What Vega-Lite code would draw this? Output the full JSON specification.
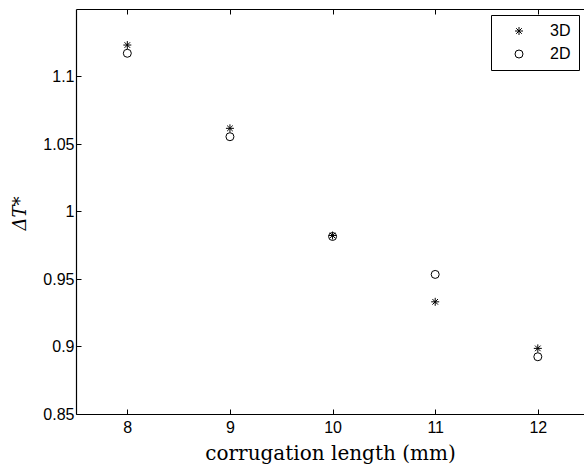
{
  "$schema": "https://vega.github.io/schema/vega-lite/v6.json",
  "width": 508,
  "height": 405,
  "autosize": "none",
  "padding": {"left": 76, "top": 9, "right": 0, "bottom": 56},
  "background": "white",
  "config": {
    "view": {"stroke": null},
    "axis": {
      "domainColor": "black",
      "domainWidth": 1.2,
      "tickColor": "black",
      "tickWidth": 1,
      "grid": false,
      "labelFont": "Liberation Sans",
      "labelFontSize": 16,
      "labelColor": "black",
      "titleFont": "DejaVu Serif",
      "titleFontWeight": "normal",
      "titleColor": "black"
    }
  },
  "data": {
    "values": [
      {"x": 8, "y": 1.1233, "series": "3D"},
      {"x": 9, "y": 1.0616, "series": "3D"},
      {"x": 10, "y": 0.9822, "series": "3D"},
      {"x": 11, "y": 0.9331, "series": "3D"},
      {"x": 12, "y": 0.8986, "series": "3D"},
      {"x": 8, "y": 1.1172, "series": "2D"},
      {"x": 9, "y": 1.0554, "series": "2D"},
      {"x": 10, "y": 0.9815, "series": "2D"},
      {"x": 11, "y": 0.9534, "series": "2D"},
      {"x": 12, "y": 0.8924, "series": "2D"}
    ]
  },
  "resolve": {"axis": {"x": "independent"}},
  "layer": [
    {
      "mark": {"type": "point", "filled": false, "color": "black", "strokeWidth": 1, "size": 64, "opacity": 1},
      "encoding": {
        "x": {
          "field": "x", "type": "quantitative",
          "scale": {"domain": [7.5, 12.45], "nice": false, "zero": false},
          "axis": {
            "values": [8, 9, 10, 11, 12],
            "format": "~g",
            "tickSize": -5,
            "labelPadding": 10,
            "title": "corrugation length (mm)",
            "titleFontSize": 20,
            "titleX": 254,
            "titleY": 39,
            "titleBaseline": "middle",
            "titleAnchor": "start",
            "titleAlign": "center"
          }
        },
        "y": {
          "field": "y", "type": "quantitative",
          "scale": {"domain": [0.85, 1.15], "nice": false, "zero": false},
          "axis": {
            "values": [0.85, 0.9, 0.95, 1, 1.05, 1.1],
            "format": "~g",
            "tickSize": -5,
            "labelPadding": 7,
            "title": "ΔT*",
            "titleFontSize": 18,
            "titleFontStyle": "italic",
            "titleX": -56,
            "titleY": 204,
            "titleBaseline": "middle",
            "titleAlign": "center",
            "titleAngle": -90
          }
        },
        "shape": {
          "field": "series", "type": "nominal",
          "scale": {
            "domain": ["3D", "2D"],
            "range": ["M-1,0L1,0M0,-1L0,1M-0.7,-0.7L0.7,0.7M-0.7,0.7L0.7,-0.7", "circle"]
          },
          "legend": {
            "title": null,
            "orient": "none",
            "legendX": 415,
            "legendY": 6,
            "strokeColor": "black",
            "fillColor": "white",
            "padding": 8,
            "symbolOffset": 12,
            "labelOffset": 23,
            "rowPadding": 7,
            "labelFont": "Liberation Sans",
            "labelFontSize": 16,
            "labelColor": "black",
            "symbolSize": 64,
            "symbolStrokeColor": "black",
            "symbolStrokeWidth": 1,
            "symbolFillColor": "transparent"
          }
        }
      }
    },
    {
      "mark": {"type": "point", "opacity": 0},
      "encoding": {
        "x": {
          "field": "x", "type": "quantitative",
          "scale": {"domain": [7.5, 12.45], "nice": false, "zero": false},
          "axis": {
            "orient": "top",
            "values": [8, 9, 10, 11, 12],
            "tickSize": -5,
            "labels": false,
            "title": null
          }
        },
        "y": {"field": "y", "type": "quantitative"}
      }
    }
  ]
}
